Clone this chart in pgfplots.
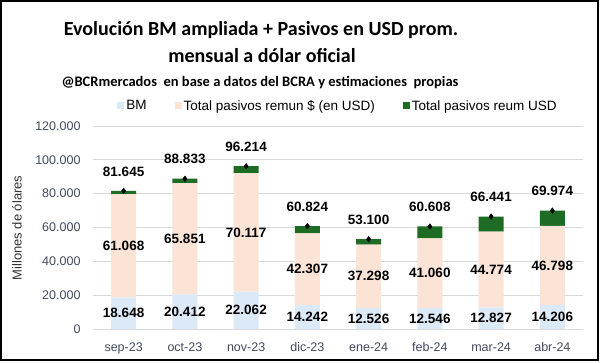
\documentclass[border=0pt]{standalone}
\usepackage{fontspec}
\setmainfont{Liberation Sans}
\newfontfamily\titlefont{Carlito}
\usepackage{pgfplots}
\pgfplotsset{compat=1.18}
\usepackage{pgfplotstable}
\definecolor{bmc}{HTML}{DCE9F6}
\definecolor{pasc}{HTML}{FBE3D6}
\definecolor{usdc}{HTML}{1E6B24}
\definecolor{tickc}{HTML}{404A5C}
\definecolor{gridc}{HTML}{D9D9D9}

\pgfplotstableread{
x bm pas total bml pasl totl
0 18648 61068 81645 18.648 61.068 81.645
1 20412 65851 88833 20.412 65.851 88.833
2 22062 70117 96214 22.062 70.117 96.214
3 14242 42307 60824 14.242 42.307 60.824
4 12526 37298 53100 12.526 37.298 53.100
5 12546 41060 60608 12.546 41.060 60.608
6 12827 44774 66441 12.827 44.774 66.441
7 14206 46798 69974 14.206 46.798 69.974
}\datatable

\tikzset{lbl/.style={anchor=center, font=\bfseries\fontsize{13.5}{16}\selectfont, text=black}}
\pgfplotsset{
  common/.style={
    at={(93pt,-329pt)}, anchor=south west, scale only axis,
    width=490pt, height=203pt,
    xmin=-0.5, xmax=7.5, ymin=0, ymax=120000, clip=false},
}

\begin{document}
\begin{tikzpicture}
\useasboundingbox (0pt,0pt) rectangle (600pt,-363pt);
\fill[white] (0pt,0pt) rectangle (600pt,-363pt);
\draw[line width=1.2pt] (1pt,-1pt) rectangle (598pt,-360pt);
\node[anchor=base, font=\titlefont\bfseries\fontsize{20}{24}\selectfont] at (261pt,-36pt) {Evolución BM ampliada + Pasivos en USD prom.};
\node[anchor=base, font=\titlefont\bfseries\fontsize{20}{24}\selectfont] at (262pt,-63pt) {mensual a dólar oficial};
\node[anchor=base, font=\titlefont\bfseries\fontsize{14.5}{17}\selectfont] at (260pt,-87pt) {@BCRmercados\ \ en base a datos del BCRA y estimaciones\ \ propias};
\node[rotate=90, font=\fontsize{13}{15}\selectfont, text=black!80] at (17pt,-228pt) {Millones de ólares};
\begin{axis}[
  common,
  ybar stacked, bar width=25pt,
  axis x line*=bottom, axis y line*=left,
  x axis line style={gridc, line width=0.75pt, -},
  y axis line style={draw=none},
  major tick length=0pt,
  ymajorgrids, grid style={gridc, line width=0.75pt},
  xtick={0,...,7},
  xticklabels={sep-23,oct-23,nov-23,dic-23,ene-24,feb-24,mar-24,abr-24},
  ytick={0,20000,...,120000},
  scaled y ticks=false,
  yticklabels={0,20.000,40.000,60.000,80.000,100.000,120.000},
  yticklabel style={font=\fontsize{12.5}{14}\selectfont, text=tickc, xshift=-9pt},
  xticklabel style={font=\fontsize{12.5}{14}\selectfont, text=tickc, yshift=-10pt},
  legend style={at={(0.5,1)}, anchor=center, yshift=20pt, draw=none, fill=none,
    legend columns=-1, font=\fontsize{13.5}{15}\selectfont, text=black,
    /tikz/every even column/.append style={column sep=26pt}},
]
\addplot[fill=bmc, draw=none,
  legend image code/.code={\fill[bmc] (0pt,-3.5pt) rectangle (7pt,3.5pt);}]
  table[x=x, y=bm]{\datatable};
\addlegendentry{BM}
\addplot[fill=pasc, draw=none,
  legend image code/.code={\fill[pasc] (0pt,-3.5pt) rectangle (7pt,3.5pt);}]
  table[x=x, y=pas]{\datatable};
\addlegendentry{Total pasivos remun \textdollar{} (en USD)}
\addplot[fill=usdc, draw=none,
  legend image code/.code={\fill[usdc] (0pt,-3.5pt) rectangle (7pt,3.5pt);}]
  table[x=x, y expr=\thisrow{total}-\thisrow{bm}-\thisrow{pas}]{\datatable};
\addlegendentry{Total pasivos reum USD}
\end{axis}
\begin{axis}[common, hide axis]
\addplot[draw=none, mark=none, point meta=explicit symbolic,
  nodes near coords, nodes near coords style={lbl}]
  table[x=x, y expr=\thisrow{bm}/2, meta=bml]{\datatable};
\addplot[draw=none, mark=none, point meta=explicit symbolic,
  nodes near coords, nodes near coords style={lbl}]
  table[x=x, y expr=\thisrow{bm}+\thisrow{pas}/2, meta=pasl]{\datatable};
\addplot[only marks, mark=diamond*, mark size=2.8pt, black, point meta=explicit symbolic,
  nodes near coords, nodes near coords style={lbl, yshift=19.5pt}]
  table[x=x, y=total, meta=totl]{\datatable};
\end{axis}
\end{tikzpicture}
\end{document}
